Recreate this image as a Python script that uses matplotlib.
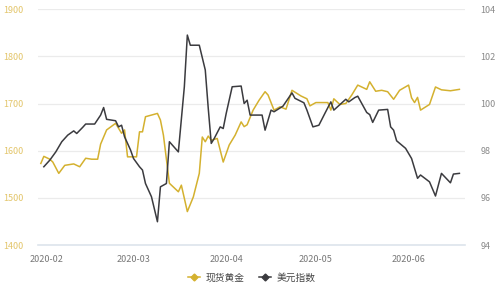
import pandas as pd
import matplotlib
matplotlib.use("Agg")
import matplotlib.pyplot as plt
import matplotlib.dates as mdates
from matplotlib.lines import Line2D

plt.rcParams['font.family'] = ['Noto Sans CJK SC', 'DejaVu Sans']

# gold spot price (left axis)
gold_dates = ["2020-01-30", "2020-01-31", "2020-02-02", "2020-02-03", "2020-02-05",
              "2020-02-07", "2020-02-10", "2020-02-12", "2020-02-14", "2020-02-16",
              "2020-02-18", "2020-02-19", "2020-02-21", "2020-02-24", "2020-02-26",
              "2020-02-27", "2020-02-28", "2020-03-02", "2020-03-03", "2020-03-04",
              "2020-03-05", "2020-03-09", "2020-03-10", "2020-03-11", "2020-03-13",
              "2020-03-16", "2020-03-17", "2020-03-19", "2020-03-21", "2020-03-23",
              "2020-03-24", "2020-03-25", "2020-03-26", "2020-03-27", "2020-03-29",
              "2020-03-31", "2020-04-02", "2020-04-04", "2020-04-06", "2020-04-07",
              "2020-04-08", "2020-04-10", "2020-04-12", "2020-04-14", "2020-04-15",
              "2020-04-17", "2020-04-19", "2020-04-21", "2020-04-23", "2020-04-26",
              "2020-04-28", "2020-04-29", "2020-05-01", "2020-05-02", "2020-05-05",
              "2020-05-06", "2020-05-07", "2020-05-09", "2020-05-11", "2020-05-13",
              "2020-05-15", "2020-05-17", "2020-05-18", "2020-05-19", "2020-05-21",
              "2020-05-23", "2020-05-25", "2020-05-27", "2020-05-29", "2020-06-01",
              "2020-06-02", "2020-06-03", "2020-06-04", "2020-06-05", "2020-06-08",
              "2020-06-10", "2020-06-12", "2020-06-15", "2020-06-18"]
gold = [1573, 1588, 1582, 1576, 1552,
        1569, 1572, 1566, 1584, 1582,
        1582, 1614, 1644, 1658, 1637,
        1644, 1587, 1587, 1640, 1640,
        1672, 1679, 1665, 1633, 1531,
        1513, 1527, 1471, 1502, 1552,
        1629, 1619, 1631, 1622, 1626,
        1576, 1612, 1633, 1661, 1651,
        1655, 1686, 1707, 1725, 1718,
        1686, 1693, 1688, 1728, 1716,
        1710, 1695, 1702, 1702, 1702,
        1686, 1710, 1698, 1700, 1718,
        1739, 1733, 1730, 1746, 1726,
        1728, 1725, 1709, 1728, 1739,
        1712, 1702, 1713, 1686, 1698,
        1735, 1729, 1727, 1730]

# US dollar index (right axis)
dxy_dates = ["2020-01-31", "2020-02-02", "2020-02-04", "2020-02-06", "2020-02-08",
             "2020-02-10", "2020-02-11", "2020-02-13", "2020-02-14", "2020-02-17",
             "2020-02-19", "2020-02-20", "2020-02-21", "2020-02-24", "2020-02-25",
             "2020-02-26", "2020-02-27", "2020-02-29", "2020-03-01", "2020-03-03",
             "2020-03-04", "2020-03-05", "2020-03-07", "2020-03-09", "2020-03-10",
             "2020-03-12", "2020-03-13", "2020-03-16", "2020-03-18", "2020-03-19",
             "2020-03-20", "2020-03-23", "2020-03-25", "2020-03-26", "2020-03-27",
             "2020-03-28", "2020-03-30", "2020-03-31", "2020-04-01", "2020-04-03",
             "2020-04-06", "2020-04-07", "2020-04-08", "2020-04-09", "2020-04-13",
             "2020-04-14", "2020-04-16", "2020-04-17", "2020-04-20", "2020-04-23",
             "2020-04-24", "2020-04-27", "2020-04-28", "2020-04-30", "2020-05-02",
             "2020-05-04", "2020-05-06", "2020-05-07", "2020-05-09", "2020-05-11",
             "2020-05-12", "2020-05-14", "2020-05-15", "2020-05-18", "2020-05-19",
             "2020-05-20", "2020-05-22", "2020-05-25", "2020-05-26", "2020-05-27",
             "2020-05-28", "2020-05-31", "2020-06-02", "2020-06-04", "2020-06-05",
             "2020-06-08", "2020-06-10", "2020-06-12", "2020-06-15", "2020-06-16",
             "2020-06-18"]
dxy = [97.32, 97.60, 97.95, 98.38, 98.66,
       98.84, 98.73, 98.99, 99.13, 99.13,
       99.51, 99.83, 99.33, 99.27, 99.01,
       99.08, 98.59, 98.03, 97.67, 97.32,
       97.18, 96.61, 96.05, 94.99, 96.47,
       96.61, 98.38, 97.95, 100.71, 102.90,
       102.47, 102.47, 101.42, 99.79, 98.31,
       98.52, 99.01, 98.94, 99.58, 100.71,
       100.74, 100.00, 100.14, 99.51, 99.51,
       98.87, 99.72, 99.65, 99.89, 100.45,
       100.22, 100.03, 99.72, 99.01, 99.08,
       99.58, 100.07, 99.72, 99.95, 100.18,
       100.07, 100.25, 100.31, 99.62, 99.53,
       99.20, 99.72, 99.75, 99.01, 98.87,
       98.42, 98.10, 97.67, 96.83, 96.97,
       96.68, 96.08, 97.04, 96.64, 97.01,
       97.04]

gold_ticks = [1400, 1500, 1600, 1700, 1800, 1900]
dxy_ticks = [94, 96, 98, 100, 102, 104]

gold_color = "#d4b12f"
dxy_color = "#3b3b3f"

fig = plt.figure(figsize=(4.98, 2.85), dpi=100)
ax = fig.add_axes([0.076, 0.14, 0.858, 0.828])
ax2 = ax.twinx()

ax.plot(pd.to_datetime(gold_dates), gold, color=gold_color, lw=1.1, zorder=3)
ax2.plot(pd.to_datetime(dxy_dates), dxy, color=dxy_color, lw=1.1, zorder=3)

ax.set_ylim(1400, 1900)
ax.set_yticks(gold_ticks)
ax2.set_ylim(94, 104)
ax2.set_yticks(dxy_ticks)
ax.set_xlim(pd.Timestamp("2020-01-29"), pd.Timestamp("2020-06-19 22:00"))

ax.xaxis.set_major_locator(mdates.MonthLocator())
ax.xaxis.set_major_formatter(mdates.DateFormatter("%Y-%m"))

ax.grid(axis="y", color="#ebebeb", lw=0.9)
ax.set_axisbelow(True)
for a in (ax, ax2):
    for s in a.spines.values():
        s.set_visible(False)
ax.spines["bottom"].set_visible(True)
ax.spines["bottom"].set_color("#dde4ec")
ax.spines["bottom"].set_linewidth(1.2)

ax.tick_params(axis="y", length=0, pad=10, labelsize=6.5, labelcolor="#e3c56a")
ax2.tick_params(axis="y", length=0, pad=11, labelsize=6.5, labelcolor="#8a8a8a")
ax.tick_params(axis="x", length=0, pad=7, labelsize=6.5, labelcolor="#777777")

handles = [Line2D([0], [0], color=gold_color, lw=1.1, marker="D", markersize=3.5),
           Line2D([0], [0], color=dxy_color, lw=1.1, marker="D", markersize=3.5)]
fig.legend(handles, ["现货黄金", "美元指数"], loc="center", bbox_to_anchor=(0.505, 0.025),
           ncol=2, frameon=False, fontsize=7, handlelength=1.3, handletextpad=0.5,
           columnspacing=1.5, labelcolor="#444444")

fig.savefig("out.png", dpi=100)
